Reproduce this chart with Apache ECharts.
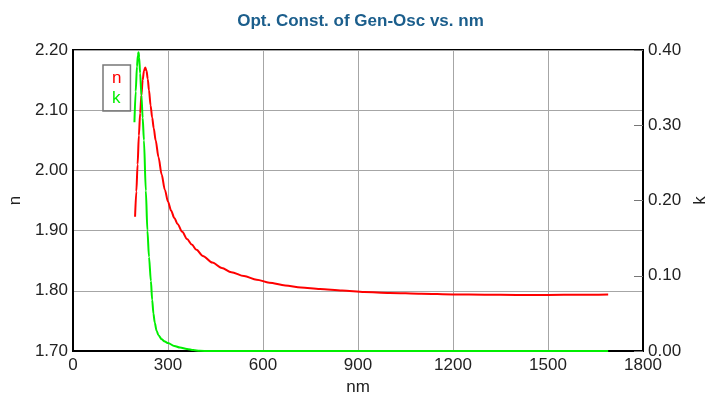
<!DOCTYPE html>
<html>
<head>
<meta charset="utf-8">
<script src="https://cdn.jsdelivr.net/npm/echarts@6/dist/echarts.min.js"></script>
<style>
  html, body { margin: 0; padding: 0; background: #fff; }
  #chart { width: 721px; height: 394px; }
</style>
</head>
<body>
<div id="chart"></div>
<script>
// wavelength (nm) and refractive index n
const nmN = [196, 200, 204, 208, 212, 216, 220, 224, 228, 232, 236, 240, 245, 250, 255, 261, 270, 280, 290,
  300, 310, 320, 330, 345, 360, 375, 390, 410, 440, 470, 500, 540, 580, 620, 670, 720, 780, 850, 920, 1000,
  1100, 1200, 1300, 1400, 1500, 1600, 1690];
const nVals = [1.923, 1.965, 2.01, 2.058, 2.095, 2.125, 2.15, 2.165, 2.171, 2.166, 2.152, 2.133, 2.108, 2.088, 2.07, 2.05, 2.022, 1.993, 1.968,
  1.948, 1.933, 1.921, 1.911, 1.898, 1.886, 1.877, 1.868, 1.858, 1.847, 1.838, 1.831, 1.8245, 1.8185, 1.8135, 1.809, 1.8055, 1.803, 1.8005, 1.798, 1.7965,
  1.795, 1.794, 1.7935, 1.793, 1.793, 1.7935, 1.794];

// wavelength (nm) and extinction coefficient k
const nmK = [194, 198, 202, 205, 207, 209, 212, 216, 220, 224, 230, 235, 240, 246, 250, 254, 258, 264, 270, 280,
  290, 300, 320, 338, 360, 380, 400, 430, 500, 600, 800, 1000, 1200, 1400, 1600, 1690];
const kVals = [0.304, 0.345, 0.378, 0.393, 0.397, 0.39, 0.369, 0.34, 0.31, 0.28, 0.213, 0.16, 0.125, 0.093, 0.068, 0.05, 0.038, 0.027, 0.021, 0.0155,
  0.0125, 0.0105, 0.0068, 0.0045, 0.0028, 0.0012, 0.0003, 0, 0, 0, 0, 0, 0, 0, 0, 0];

const xTicks = [0, 300, 600, 900, 1200, 1500, 1800];
const nTicks = [1.7, 1.8, 1.9, 2.0, 2.1, 2.2];
const kTicks = [0, 0.1, 0.2, 0.3, 0.4];

const font = "'Liberation Sans', Arial, sans-serif";
const labelStyle = { color: "#222", fontSize: 17, fontFamily: font };

const option = {
  animation: false,
  title: {
    text: "Opt. Const. of Gen-Osc vs. nm",
    left: "center",
    top: 8,
    textStyle: { color: "#1b5e8c", fontSize: 17, fontWeight: "bold", fontFamily: font },
  },
  legend: {
    left: 103,
    top: 65,
    orient: "vertical",
    icon: "none",
    itemWidth: 0,
    itemHeight: 14,
    itemGap: 3,
    padding: [5, 9, 4, 4],
    borderColor: "#777",
    borderWidth: 1.5,
    selectedMode: false,
    textStyle: { fontSize: 17, fontFamily: font },
    data: [
      { name: "n", textStyle: { color: "#ff0000" } },
      { name: "k", textStyle: { color: "#00ee00" } },
    ],
  },
  grid: {
    left: 73,
    right: 78,
    top: 50,
    bottom: 43,
    outerBoundsMode: "none",
    show: true,
    borderColor: "#000",
    borderWidth: 2,
  },
  xAxis: {
    type: "value",
    min: xTicks[0],
    max: xTicks[xTicks.length - 1],
    interval: 300,
    name: "nm",
    nameLocation: "middle",
    nameGap: 26,
    nameTextStyle: labelStyle,
    axisLine: { lineStyle: { color: "#000", width: 2 } },
    axisTick: { show: false },
    axisLabel: { ...labelStyle, margin: 6, formatter: (v) => String(v) },
    splitLine: { lineStyle: { color: "#a6a6a6", width: 1 } },
  },
  yAxis: [
    {
      type: "value",
      min: nTicks[0],
      max: nTicks[nTicks.length - 1],
      interval: 0.1,
      name: "n",
      nameLocation: "middle",
      nameGap: 47,
      nameTextStyle: labelStyle,
      axisLine: { show: true, lineStyle: { color: "#000", width: 2 } },
      axisTick: { show: false },
      axisLabel: { ...labelStyle, margin: 5, formatter: (v) => v.toFixed(2) },
      splitLine: { lineStyle: { color: "#a6a6a6", width: 1 } },
    },
    {
      type: "value",
      position: "right",
      min: kTicks[0],
      max: kTicks[kTicks.length - 1],
      interval: 0.1,
      name: "k",
      nameLocation: "middle",
      nameGap: 46,
      nameTextStyle: labelStyle,
      axisLine: { show: true, lineStyle: { color: "#000", width: 2 } },
      axisTick: { show: true, inside: true, length: 9, lineStyle: { color: "#777" } },
      axisLabel: { ...labelStyle, margin: 5, formatter: (v) => v.toFixed(2) },
      splitLine: { show: false },
    },
  ],
  series: [
    {
      name: "n",
      type: "line",
      yAxisIndex: 0,
      showSymbol: false,
      smooth: 0.3,
      smoothMonotone: "x",
      lineStyle: { color: "#ff0000", width: 2 },
      itemStyle: { color: "#ff0000" },
      data: nmN.map((x, i) => [x, nVals[i]]),
    },
    {
      name: "k",
      type: "line",
      yAxisIndex: 1,
      showSymbol: false,
      smooth: 0.3,
      smoothMonotone: "x",
      lineStyle: { color: "#00ee00", width: 2 },
      itemStyle: { color: "#00ee00" },
      data: nmK.map((x, i) => [x, kVals[i]]),
    },
  ],
};

const myChart = echarts.init(document.getElementById("chart"));
myChart.setOption(option);
</script>
</body>
</html>
